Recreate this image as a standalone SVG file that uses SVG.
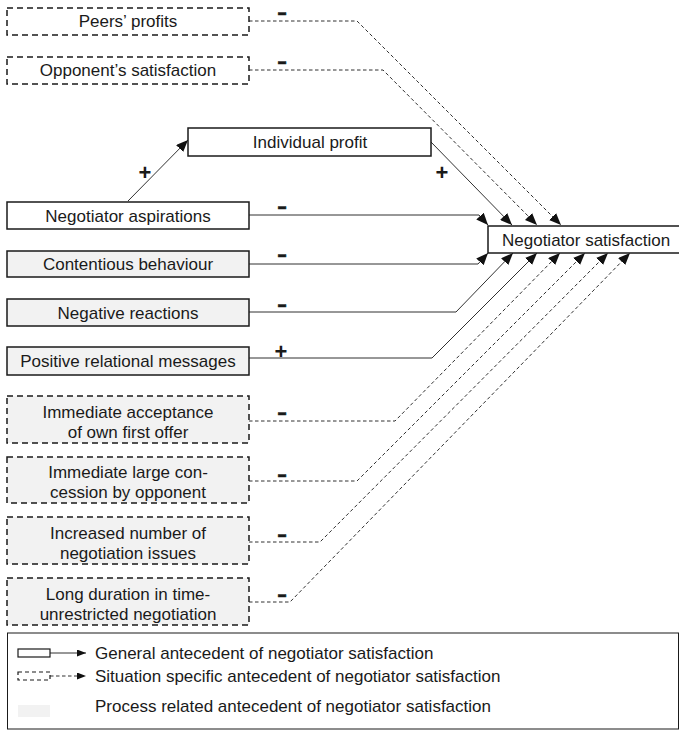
<svg xmlns="http://www.w3.org/2000/svg" width="679" height="733" viewBox="0 0 679 733">
<style>
text{font-family:"Liberation Sans",Arial,sans-serif;font-size:17px;fill:#1a1a1a}
.c{text-anchor:middle}
.box{stroke:#1a1a1a;stroke-width:1.5}
.w{fill:#fff}
.g{fill:#f2f2f2}
.d{stroke-dasharray:6,4}
.con{fill:none;stroke:#1a1a1a;stroke-width:0.9}
.dc{stroke-dasharray:3.5,2.5}
.mn{font-weight:bold;font-size:20px;text-anchor:middle;stroke:#1a1a1a;stroke-width:0.6}
.pl{font-weight:bold;font-size:22px;text-anchor:middle}
</style>
<defs>
<marker id="ah" markerUnits="userSpaceOnUse" markerWidth="13" markerHeight="10" refX="12" refY="5" orient="auto"><path d="M0,0 L12,5 L0,10 z" fill="#111"/></marker>
<marker id="ahs" markerUnits="userSpaceOnUse" markerWidth="9" markerHeight="7" refX="9" refY="3.5" orient="auto"><path d="M0,0 L9,3.5 L0,7 z" fill="#111"/></marker>
</defs>
<rect x="0" y="0" width="679" height="733" fill="#fff"/>
<g id="connectors">
<path class="con dc" d="M249,21 H357 L561,225" marker-end="url(#ah)"/>
<path class="con dc" d="M249,70 H383 L537,225" marker-end="url(#ah)"/>
<path class="con" d="M431,142 L512,225" marker-end="url(#ah)"/>
<path class="con" d="M249,215 H479 L488,225" marker-end="url(#ah)"/>
<path class="con" d="M128,201 L188,140" marker-end="url(#ah)"/>
<path class="con" d="M249,264 H478 L488,253" marker-end="url(#ah)"/>
<path class="con" d="M249,312 H456 L513,253" marker-end="url(#ah)"/>
<path class="con" d="M249,358 H432 L537,253" marker-end="url(#ah)"/>
<path class="con dc" d="M249,421 H395 L560,253" marker-end="url(#ah)"/>
<path class="con dc" d="M249,481 H357 L585,253" marker-end="url(#ah)"/>
<path class="con dc" d="M249,542 H320 L608,253" marker-end="url(#ah)"/>
<path class="con dc" d="M249,602 H290 L630,253" marker-end="url(#ah)"/>
<text class="mn" transform="translate(282,18.6) scale(1.45,1)">-</text>
<text class="mn" transform="translate(282,67.6) scale(1.45,1)">-</text>
<text class="pl" x="145" y="180">+</text>
<text class="pl" x="442" y="180">+</text>
<text class="mn" transform="translate(282,212.6) scale(1.45,1)">-</text>
<text class="mn" transform="translate(282,260.6) scale(1.45,1)">-</text>
<text class="mn" transform="translate(282,310.6) scale(1.45,1)">-</text>
<text class="pl" x="281" y="359">+</text>
<text class="mn" transform="translate(282,418.6) scale(1.45,1)">-</text>
<text class="mn" transform="translate(282,480.6) scale(1.45,1)">-</text>
<text class="mn" transform="translate(282,540.6) scale(1.45,1)">-</text>
<text class="mn" transform="translate(282,600.6) scale(1.45,1)">-</text>
</g>
<g id="peers"><rect class="box w d" x="7" y="8" width="242" height="27"/><text class="c" x="128" y="27">Peers’ profits</text></g>
<g id="opponent"><rect class="box w d" x="7" y="57" width="242" height="27"/><text class="c" x="128" y="76">Opponent’s satisfaction</text></g>
<g id="profit"><rect class="box w" x="188" y="128" width="243" height="28"/><text class="c" x="310" y="148">Individual profit</text></g>
<g id="aspirations"><rect class="box w" x="7" y="202" width="242" height="27"/><text class="c" x="128" y="222">Negotiator aspirations</text></g>
<g id="contentious"><rect class="box g" x="7" y="251" width="242" height="26"/><text class="c" x="128" y="270">Contentious behaviour</text></g>
<g id="negative"><rect class="box g" x="7" y="299" width="242" height="27"/><text class="c" x="128" y="319">Negative reactions</text></g>
<g id="positive"><rect class="box g" x="7" y="347" width="242" height="28"/><text class="c" x="128" y="367">Positive relational messages</text></g>
<g id="acceptance"><rect class="box g d" x="7" y="396" width="242" height="47"/><text class="c" x="128" y="418">Immediate acceptance</text><text class="c" x="128" y="438">of own first offer</text></g>
<g id="concession"><rect class="box g d" x="7" y="457" width="242" height="46"/><text class="c" x="128" y="478">Immediate large con-</text><text class="c" x="128" y="498">cession by opponent</text></g>
<g id="issues"><rect class="box g d" x="7" y="517" width="242" height="47"/><text class="c" x="128" y="539">Increased number of</text><text class="c" x="128" y="559">negotiation issues</text></g>
<g id="duration"><rect class="box g d" x="7" y="578" width="242" height="47"/><text class="c" x="128" y="600">Long duration in time-</text><text class="c" x="128" y="620">unrestricted negotiation</text></g>
<g id="satisfaction"><rect class="box w" x="488" y="226" width="195" height="27"/><text x="502" y="246">Negotiator satisfaction</text></g>
<g id="legend">
<rect x="7.5" y="633" width="671" height="96" fill="#fff" stroke="#1a1a1a" stroke-width="1"/>
<rect x="18" y="649" width="32" height="8" fill="#fff" stroke="#1a1a1a" stroke-width="1.2"/>
<path class="con" d="M50,653 H86" marker-end="url(#ahs)"/>
<text x="95" y="659">General antecedent of negotiator satisfaction</text>
<rect x="18" y="672" width="32" height="8" fill="#fff" stroke="#1a1a1a" stroke-width="1.2" stroke-dasharray="4,3"/>
<path class="con dc" d="M50,676 H86" marker-end="url(#ahs)"/>
<text x="95" y="682">Situation specific antecedent of negotiator satisfaction</text>
<rect x="18" y="705" width="32" height="12" fill="#f2f2f2"/>
<text x="95" y="712">Process related antecedent of negotiator satisfaction</text>
</g>
</svg>
